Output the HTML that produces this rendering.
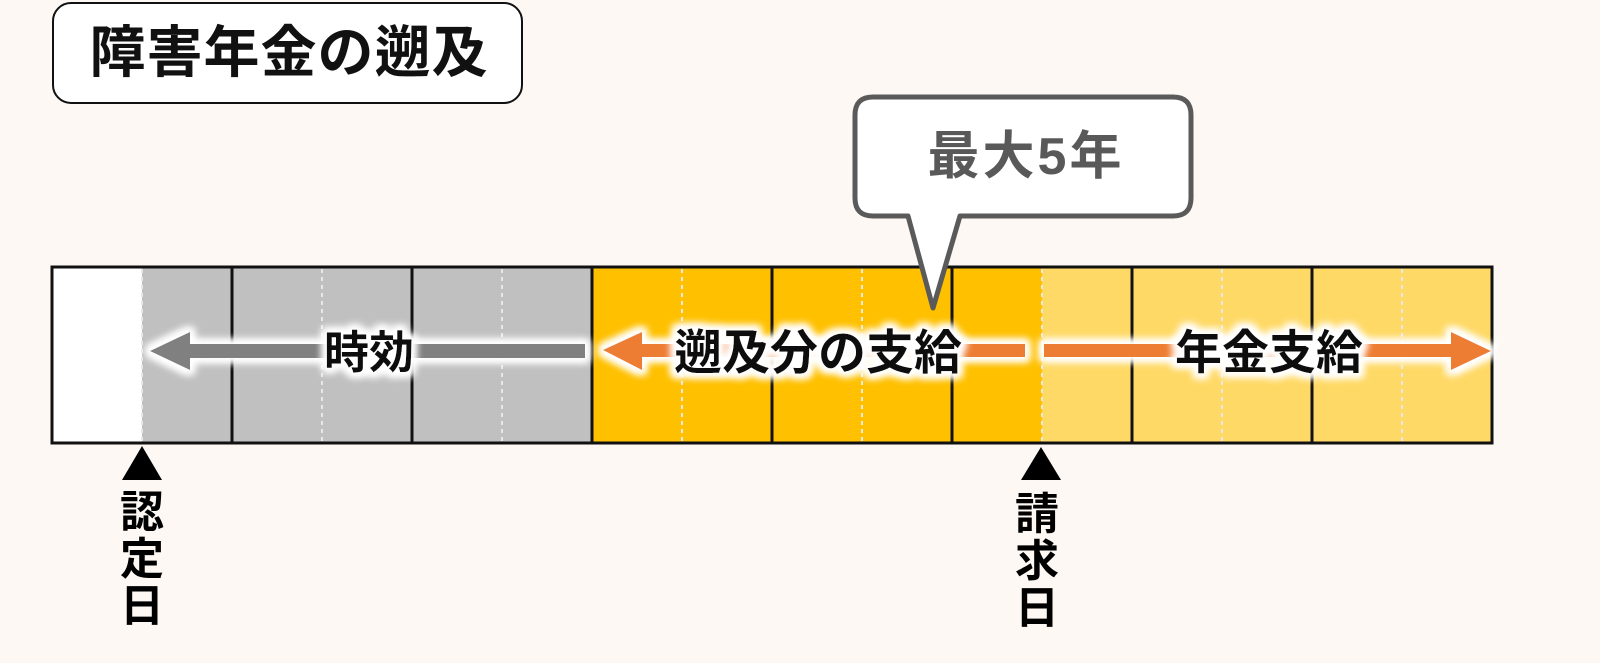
<!DOCTYPE html>
<html><head><meta charset="utf-8"><style>
html,body{margin:0;padding:0;background:#fdf8f4;}
svg{display:block;}
text{font-family:"Liberation Sans","Noto Sans CJK JP",sans-serif;font-weight:bold;}
</style></head><body>
<svg width="1600" height="663" viewBox="0 0 1600 663" xmlns="http://www.w3.org/2000/svg">
<defs>
<filter id="glow" x="-20%" y="-50%" width="140%" height="200%">
<feMorphology in="SourceAlpha" operator="dilate" radius="4" result="d"/>
<feGaussianBlur in="d" stdDeviation="4" result="b"/>
<feFlood flood-color="#ffffff"/>
<feComposite in2="b" operator="in" result="w"/>
<feMerge><feMergeNode in="w"/><feMergeNode in="w"/><feMergeNode in="SourceGraphic"/></feMerge>
</filter>
</defs>
<rect width="1600" height="663" fill="#fdf8f4"/>
<!-- title -->
<rect x="53" y="3" width="469" height="100" rx="18" fill="#fff" stroke="#111" stroke-width="2"/>
<text x="289" y="72" font-size="56" text-anchor="middle" fill="#111" letter-spacing="1">障害年金の遡及</text>
<!-- bar cells -->
<rect x="52" y="267" width="90" height="176" fill="#fff"/>
<rect x="142" y="267" width="450" height="176" fill="#c0c0c0"/>
<rect x="592" y="267" width="450" height="176" fill="#ffc000"/>
<rect x="1042" y="267" width="450" height="176" fill="#ffd966"/>
<g stroke="#e8e8e8" stroke-width="2" stroke-dasharray="4,4">
<line x1="142" y1="269" x2="142" y2="441"/><line x1="322" y1="269" x2="322" y2="441"/>
<line x1="502" y1="269" x2="502" y2="441"/><line x1="682" y1="269" x2="682" y2="441"/>
<line x1="862" y1="269" x2="862" y2="441"/><line x1="1042" y1="269" x2="1042" y2="441"/>
<line x1="1222" y1="269" x2="1222" y2="441"/><line x1="1402" y1="269" x2="1402" y2="441"/>
</g>
<g stroke="#111" stroke-width="3">
<line x1="232" y1="267" x2="232" y2="443"/><line x1="412" y1="267" x2="412" y2="443"/>
<line x1="592" y1="267" x2="592" y2="443"/><line x1="772" y1="267" x2="772" y2="443"/>
<line x1="952" y1="267" x2="952" y2="443"/><line x1="1132" y1="267" x2="1132" y2="443"/>
<line x1="1312" y1="267" x2="1312" y2="443"/>
</g>
<rect x="52" y="267" width="1440" height="176" fill="none" stroke="#111" stroke-width="3"/>
<!-- gray arrow -->
<g filter="url(#glow)">
<rect x="188" y="344" width="397" height="14" fill="#808080"/>
<polygon points="150,351 190,332 190,370" fill="#808080"/>
</g>
<text x="369" y="368" font-size="45" text-anchor="middle" fill="#111" filter="url(#glow)">時効</text>
<!-- orange arrow -->
<g filter="url(#glow)">
<rect x="640" y="344" width="385" height="13" fill="#ed7d31"/>
<rect x="1044" y="344" width="410" height="13" fill="#ed7d31"/>
<polygon points="603,350 642,332 642,370" fill="#ed7d31"/>
<polygon points="1491,351 1451,332 1451,370" fill="#ed7d31"/>
</g>
<text x="818" y="369" font-size="48" text-anchor="middle" fill="#111" filter="url(#glow)">遡及分の支給</text>
<text x="1269" y="369" font-size="47" text-anchor="middle" fill="#111" filter="url(#glow)">年金支給</text>
<!-- bubble -->
<path d="M873,97 H1173 Q1191,97 1191,115 V198 Q1191,216 1173,216 H960 L933,308 L908,216 H873 Q855,216 855,198 V115 Q855,97 873,97 Z" fill="#fff" stroke="#5a5a5a" stroke-width="5" stroke-linejoin="round"/>
<text x="1026" y="174" font-size="52" text-anchor="middle" fill="#595959" letter-spacing="3">最大5年</text>
<!-- markers -->
<polygon points="142,446 122,480 162,480" fill="#000"/>
<g font-size="44" fill="#000" text-anchor="middle">
<text x="142" y="527">認</text><text x="142" y="574">定</text><text x="142" y="621">日</text>
</g>
<polygon points="1041,447 1021,480 1061,480" fill="#000"/>
<g font-size="44" fill="#000" text-anchor="middle">
<text x="1037" y="529">請</text><text x="1037" y="576">求</text><text x="1037" y="623">日</text>
</g>
</svg>
</body></html>
